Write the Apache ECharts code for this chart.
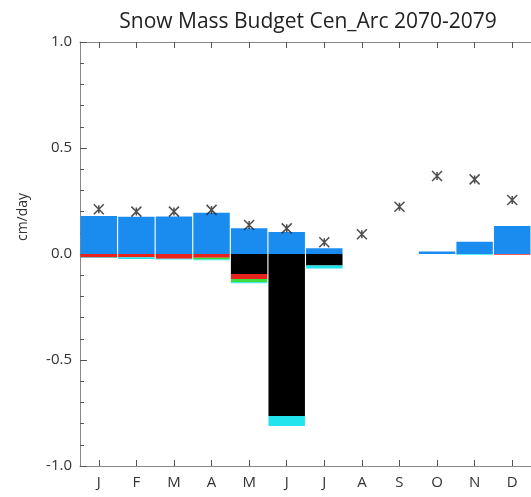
<!DOCTYPE html>
<html>
<head>
<meta charset="utf-8">
<script src="https://cdn.jsdelivr.net/npm/echarts@6/dist/echarts.min.js"></script>
<style>
html,body{margin:0;padding:0;background:#fff;}
#chart{width:531px;height:497px;}
</style>
</head>
<body>
<div id="chart"></div>
<script>
var months = ['J','F','M','A','M','J','J','A','S','O','N','D'];
var snowfall = [0.179, 0.176, 0.177, 0.195, 0.121, 0.104, 0.027, null, null, 0.012, 0.058, 0.132];
var melt     = [null, null, null, null, -0.094, -0.764, -0.054, null, null, null, null, null];
var sublim   = [-0.016, -0.015, -0.022, -0.018, -0.024, null, null, null, null, null, null, -0.004];
var greenTerm= [null, null, null, -0.008, -0.015, null, null, null, null, null, null, null];
var cyanTerm = [-0.003, -0.008, -0.004, -0.004, -0.005, -0.047, -0.014, null, null, null, -0.004, null];
var netStar  = [0.211, 0.200, 0.200, 0.208, 0.137, 0.121, 0.055, 0.093, 0.223, 0.368, 0.352, 0.255];

var chart = echarts.init(document.getElementById('chart'), null, {renderer:'canvas'});
var axisCol = '#888888';
var tickCol = '#555555';
var txtCol = '#333';
function bar(name, data, color){
  return {name:name, type:'bar', stack:'b', data:data, barCategoryGap:'3%',
    itemStyle:{color:color}, xAxisIndex:0, yAxisIndex:0};
}
chart.setOption({
  animation:false,
  title:{text:'Snow Mass Budget Cen_Arc 2070-2079', left:303, textAlign:'center', top:7,
    textStyle:{fontFamily:'Open Sans', fontSize:21, fontWeight:'normal', color:'#222'}},
  grid:{left:80, right:-5, top:42, bottom:31, containLabel:false},
  xAxis:[{type:'category', data:months, position:'bottom',
      axisLine:{onZero:false, lineStyle:{color:axisCol, width:1}},
      axisTick:{show:true, inside:true, alignWithLabel:true, length:6, lineStyle:{color:tickCol, width:1}},
      axisLabel:{color:txtCol, fontFamily:'Open Sans', fontSize:15, margin:9}},
    {type:'category', data:months, position:'top',
      axisLine:{onZero:false, lineStyle:{color:axisCol, width:1}},
      axisTick:{show:true, inside:true, alignWithLabel:true, length:6, lineStyle:{color:tickCol, width:1}},
      axisLabel:{show:false}}],
  yAxis:[{type:'value', min:-1, max:1, interval:0.5, position:'left',
    name:'cm/day', nameLocation:'middle', nameGap:50,
    nameTextStyle:{color:txtCol, fontFamily:'Open Sans', fontSize:14, padding:[0,0,0,74]},
    axisLine:{show:true, onZero:false, lineStyle:{color:axisCol}},
    axisTick:{show:true, inside:true, length:7, lineStyle:{color:tickCol, width:1}},
    minorTick:{show:true, splitNumber:5, length:4, lineStyle:{color:tickCol, width:1}},
    splitLine:{show:false},
    axisLabel:{color:txtCol, fontFamily:'Open Sans', fontSize:15, margin:8,
      formatter:function(v){ return v.toFixed(1); }}}],
  series:[
    bar('snowfall', snowfall, '#1a8cf0'),
    bar('melt', melt, '#000000'),
    bar('sublimation', sublim, '#e8231c'),
    bar('green', greenTerm, '#3ddc3d'),
    bar('cyan', cyanTerm, '#22e4ee'),
    {name:'net', type:'scatter', data:netStar, z:5,
      symbol:'path://M0,0L10,10M10,0L0,10M5,1L5,9', symbolSize:10,
      itemStyle:{color:'rgba(0,0,0,0)', borderColor:'#222', borderWidth:1.5}}
  ]
});
</script>
</body>
</html>
